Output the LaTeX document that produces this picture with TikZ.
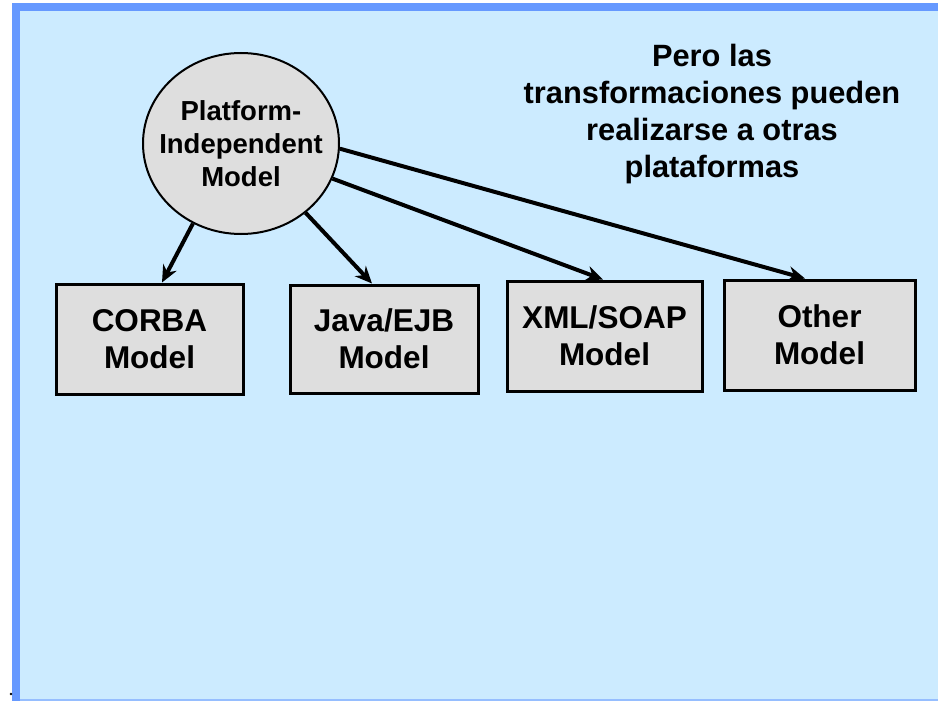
\documentclass[tikz,border=0pt]{standalone}
\usepackage{fontspec}
\setmainfont{Liberation Sans}
\usetikzlibrary{shapes.geometric,arrows.meta}
\definecolor{frameblue}{RGB}{102,153,255}
\definecolor{bgblue}{RGB}{204,235,255}
\definecolor{boxgray}{RGB}{222,222,222}
\definecolor{lineblue}{RGB}{150,190,255}
\tikzset{
  pimnode/.style={ellipse, draw=black, line width=2pt, fill=boxgray,
    minimum width=196pt, minimum height=181pt, inner xsep=-13pt, inner ysep=0pt, align=center,
    font=\bfseries\fontsize{27.5}{33}\selectfont},
  modelbox/.style={rectangle, draw=black, line width=3pt, fill=boxgray,
    minimum height=110pt, inner sep=0pt, align=center,
    font=\bfseries\fontsize{31.5}{37}\selectfont},
  conn/.style={line width=4pt, -{Stealth[length=17pt,width=15pt]}},
  titletext/.style={align=center, inner sep=0pt,
    font=\bfseries\fontsize{30.8}{37}\selectfont}
}
\begin{document}
\begin{tikzpicture}[x=1pt,y=-1pt]
\useasboundingbox (0,0) rectangle (938,701);
\fill[white] (0,0) rectangle (938,701);
% slide background and frame
\fill[bgblue] (20,11) rectangle (938,701);
\fill[lineblue] (20,699) rectangle (938,701);
\fill[frameblue] (12,3) rectangle (938,11);
\fill[frameblue] (12,3) rectangle (20,701);
\fill[black] (11,694) circle (1.3);

% title text
\node[titletext, anchor=north] (title) at (712,44)
  {Pero las\\transformaciones pueden\\realizarse a otras\\plataformas};

% central model
\node[pimnode] (pim) at (241,143.5) {Platform-\\Independent\\Model};

% target models
\node[modelbox, minimum width=187pt] (corba) at (149.5,339) {CORBA\\Model};
\node[modelbox, minimum width=188pt, minimum height=108pt] (java) at (384,339) {Java/EJB\\Model};
\node[modelbox, minimum width=195pt] (xml) at (604.5,336) {XML/SOAP\\Model};
\node[modelbox, minimum width=191pt] (other) at (819.5,335) {Other\\Model};

% connectors
\draw[conn] (pim.-121.3) -- ([xshift=12.5pt]corba.north);
\draw[conn] (pim.-47.9) -- ([xshift=-12pt]java.north);
\draw[conn] (pim.-21.6) -- ([xshift=-1.5pt]xml.north);
\draw[conn] (pim.-3.6) -- ([xshift=-14.5pt]other.north);
\end{tikzpicture}
\end{document}
